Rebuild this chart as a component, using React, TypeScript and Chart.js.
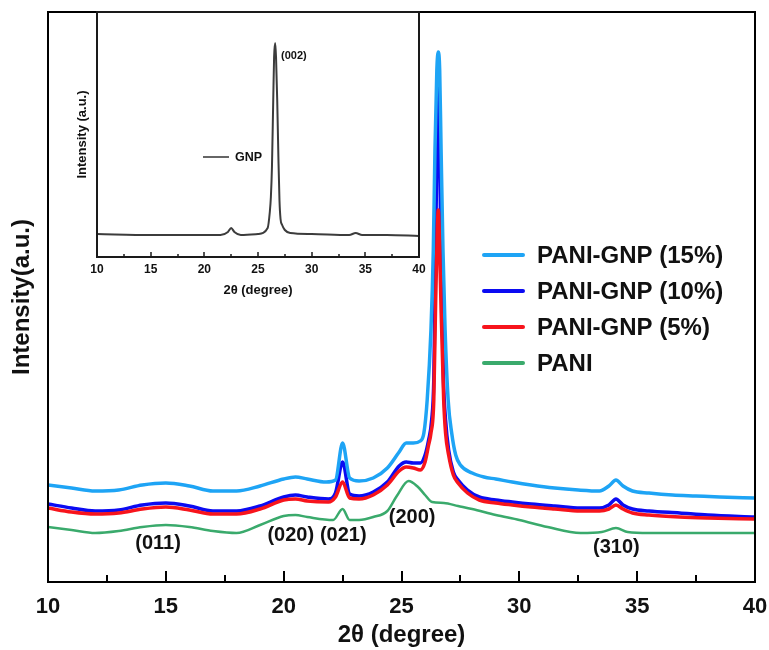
import React, { useEffect, useRef } from "react";
import { Chart, registerables } from "chart.js";

Chart.register(...registerables);

const FONT = '"Liberation Sans", Arial, Helvetica, sans-serif';

// ---- Main chart data (2θ in degrees, intensity in arbitrary units) ----
const theta15 = [10, 11, 12, 13, 14, 15, 16, 17, 18, 19, 20, 20.5, 21, 21.8, 22.2, 22.5, 22.8, 23.2, 23.8, 24.4, 24.9, 25.2, 25.5, 25.8, 25.95, 26.09, 26.25, 26.35, 26.42, 26.5, 26.56, 26.62, 26.68, 26.76, 26.85, 26.98, 27.13, 27.3, 27.5, 28, 28.5, 29, 29.7, 30.5, 31.5, 32.5, 33.4, 33.8, 34.1, 34.4, 34.8, 35.5, 36.5, 37.5, 38.5, 40];
const intensity15 = [97, 94, 91, 92, 97, 99, 96, 91, 91, 96, 103, 105, 103, 100, 102, 139, 104, 101, 104, 114, 130, 139, 139, 141, 149, 182, 252, 332, 432, 512, 530, 512, 432, 332, 252, 182, 149, 127, 117, 109, 105, 103, 100, 97, 94, 92, 91, 96, 102, 96, 91, 89, 87, 86, 85, 84];

const theta10 = [10, 11, 12, 13, 14, 15, 16, 17, 18, 19, 20, 20.5, 21, 21.9, 22.2, 22.5, 22.8, 23.2, 23.8, 24.4, 24.9, 25.2, 25.5, 25.8, 26.0, 26.15, 26.28, 26.37, 26.45, 26.52, 26.56, 26.6, 26.67, 26.78, 26.87, 27.0, 27.2, 27.4, 27.8, 28.3, 29, 29.7, 30.5, 31.5, 32.6, 33.4, 33.8, 34.1, 34.4, 34.8, 35.5, 36.8, 38, 40];
const intensity10 = [78, 74, 71, 72, 77, 79, 76, 71, 71, 76, 85, 87, 85, 83, 89, 120, 88, 86, 90, 100, 116, 120, 119, 119, 127, 142, 162, 202, 332, 472, 507, 472, 332, 202, 162, 132, 110, 102, 92, 85, 82, 80, 78, 76, 74, 74, 77, 83, 77, 73, 71, 69, 67, 65];

const theta5 = [10, 11, 12, 13, 14, 15, 16, 17, 18, 19, 20, 20.5, 21, 21.9, 22.2, 22.5, 22.8, 23.2, 23.8, 24.4, 24.9, 25.2, 25.5, 25.8, 26.0, 26.15, 26.25, 26.37, 26.45, 26.52, 26.56, 26.6, 26.67, 26.79, 26.87, 27.0, 27.2, 27.4, 27.8, 28.3, 29, 29.7, 30.5, 31.5, 32.6, 33.4, 33.8, 34.1, 34.4, 34.8, 35.5, 36.8, 38, 40];
const intensity5 = [74, 70, 68, 69, 73, 75, 72, 68, 68, 73, 82, 83, 81, 80, 85, 100, 84, 83, 87, 97, 111, 115, 114, 112, 120, 137, 149, 182, 282, 352, 372, 352, 282, 182, 149, 127, 107, 99, 89, 82, 79, 77, 75, 73, 71, 71, 73, 77, 73, 69, 67, 65, 64, 63];

const thetaPani = [10, 11, 12, 13, 14, 15, 16, 17, 18, 19, 20, 20.5, 21, 22.1, 22.5, 22.8, 23.2, 23.8, 24.4, 24.8, 25.3, 25.7, 26.0, 26.3, 26.8, 27.4, 28, 29, 30, 31.2, 32.6, 33.5, 34.1, 34.6, 35.5, 37, 40];
const intensityPani = [55, 52, 49, 51, 55, 57, 55, 51, 49, 57, 66, 67, 65, 62, 73, 62, 62, 65, 71, 86, 101, 95, 87, 80, 79, 76, 73, 67, 62, 55, 49, 50, 54, 50, 49, 49, 49];

const seriesLabels = ["PANI-GNP (15%)", "PANI-GNP (10%)", "PANI-GNP (5%)", "PANI"];
const seriesColors = ["#1ea4f5", "#0b0bf2", "#f7141c", "#3aaa6c"];

const xMajorTicks = [10, 15, 20, 25, 30, 35, 40];

const peakLabels = ["(011)", "(020)", "(021)", "(200)", "(310)"];
const peakLabelTheta = [14.67, 20.3, 22.53, 25.45, 34.12];
const peakLabelIntensity = [39, 47, 47, 65, 35];

// ---- Inset (GNP) data ----
const thetaGnp = [10, 15, 20, 21.5, 22.2, 22.5, 22.8, 23.4, 25, 25.9, 26.1, 26.2, 26.3, 26.42, 26.5, 26.6, 26.68, 26.79, 26.9, 27.0, 27.1, 27.25, 27.5, 28, 30, 33.5, 34.1, 34.7, 37, 40];
const intensityGnp = [23, 22, 22, 22, 25, 29, 25, 22, 23, 29, 45, 60, 90, 157, 200, 214, 200, 157, 100, 57, 38, 32, 27, 24, 23, 22, 24, 22, 22, 21];
const insetPeakLabel = "(002)";
const insetPeakLabelTheta = 27.15;
const insetPeakLabelIntensity = 201;
const insetLegendLabel = "GNP";

const toPoints = (xs: number[], ys: number[]) => xs.map((x, i) => ({ x, y: ys[i] }));

const tickCallback = (v: any) => (xMajorTicks.includes(Number(v)) ? String(v) : "");

function drawInwardTicks(ctx: CanvasRenderingContext2D, chart: any, major: number, minor: number) {
  const xs = chart.scales.x;
  const a = chart.chartArea;
  xs.ticks.forEach((t: any) => {
    const px = Math.round(xs.getPixelForValue(t.value));
    const len = xMajorTicks.includes(t.value) ? major : minor;
    ctx.beginPath();
    ctx.moveTo(px, a.bottom);
    ctx.lineTo(px, a.bottom - len);
    ctx.stroke();
  });
}

const mainDecor = {
  id: "mainDecor",
  afterDatasetsDraw(chart: any) {
    const { ctx, chartArea: a, scales } = chart;
    const xs = scales.x;
    const ys = scales.y;
    ctx.save();
    ctx.strokeStyle = "#000";
    ctx.lineWidth = 2;
    ctx.strokeRect(a.left, a.top, a.right - a.left, a.bottom - a.top);
    drawInwardTicks(ctx, chart, 11, 7);

    ctx.fillStyle = "#111";
    ctx.font = `bold 20px ${FONT}`;
    ctx.textAlign = "center";
    ctx.textBaseline = "middle";
    peakLabels.forEach((s, i) => {
      ctx.fillText(s, xs.getPixelForValue(peakLabelTheta[i]), ys.getPixelForValue(peakLabelIntensity[i]));
    });

    ctx.font = `bold 24px ${FONT}`;
    ctx.textAlign = "left";
    seriesLabels.forEach((s, i) => {
      const y = a.top + 243 + i * 36;
      const x0 = a.left + 436;
      ctx.strokeStyle = seriesColors[i];
      ctx.lineWidth = 4;
      ctx.lineCap = "round";
      ctx.beginPath();
      ctx.moveTo(x0, y);
      ctx.lineTo(x0 + 39, y);
      ctx.stroke();
      ctx.fillStyle = "#111";
      ctx.fillText(s, x0 + 53, y + 1);
    });
    ctx.restore();
  },
};

const insetDecor = {
  id: "insetDecor",
  afterDatasetsDraw(chart: any) {
    const { ctx, chartArea: a, scales } = chart;
    const xs = scales.x;
    const ys = scales.y;
    ctx.save();
    ctx.strokeStyle = "#1a1a1a";
    ctx.lineWidth = 2;
    ctx.strokeRect(a.left, a.top, a.right - a.left, a.bottom - a.top);
    ctx.lineWidth = 1.5;
    drawInwardTicks(ctx, chart, 5, 3);

    ctx.fillStyle = "#111";
    ctx.font = `bold 11px ${FONT}`;
    ctx.textAlign = "left";
    ctx.textBaseline = "middle";
    ctx.fillText(insetPeakLabel, xs.getPixelForValue(insetPeakLabelTheta), ys.getPixelForValue(insetPeakLabelIntensity));

    const ly = a.top + 145;
    const lx = a.left + 106;
    ctx.strokeStyle = "#333";
    ctx.lineWidth = 1.5;
    ctx.beginPath();
    ctx.moveTo(lx, ly);
    ctx.lineTo(lx + 26, ly);
    ctx.stroke();
    ctx.font = `bold 12.5px ${FONT}`;
    ctx.fillText(insetLegendLabel, lx + 32, ly + 1);
    ctx.restore();
  },
};

export default function App() {
  const mainRef = useRef<HTMLCanvasElement | null>(null);
  const insetRef = useRef<HTMLCanvasElement | null>(null);

  useEffect(() => {
    Chart.defaults.font.family = FONT;
    Chart.defaults.color = "#111";

    const lineDs = (label: string, xs: number[], ys: number[], color: string, order: number, width: number) => ({
      label,
      data: toPoints(xs, ys),
      borderColor: color,
      backgroundColor: color,
      borderWidth: width,
      pointRadius: 0,
      cubicInterpolationMode: "monotone" as const,
      order,
    });

    const main = new Chart(mainRef.current as HTMLCanvasElement, {
      type: "line",
      data: {
        datasets: [
          lineDs(seriesLabels[0], theta15, intensity15, seriesColors[0], 1, 3.5),
          lineDs(seriesLabels[1], theta10, intensity10, seriesColors[1], 2, 3.5),
          lineDs(seriesLabels[2], theta5, intensity5, seriesColors[2], 0, 3.5),
          lineDs(seriesLabels[3], thetaPani, intensityPani, seriesColors[3], 3, 2.5),
        ],
      },
      options: {
        responsive: false,
        animation: false,
        layout: { padding: { left: 0, top: 12, right: 14, bottom: 0 } },
        plugins: { legend: { display: false }, tooltip: { enabled: false } },
        scales: {
          x: {
            type: "linear",
            min: 10,
            max: 40,
            grid: { display: false, drawTicks: false },
            border: { display: false },
            ticks: {
              stepSize: 2.5,
              autoSkip: false,
              maxRotation: 0,
              padding: 12,
              callback: tickCallback,
              font: { size: 22, weight: "bold" },
              color: "#111",
            },
            title: {
              display: true,
              text: "2θ (degree)",
              font: { size: 24, weight: "bold" },
              color: "#111",
              padding: { top: 0, bottom: 0 },
            },
            afterFit: (s: any) => {
              s.height = 68;
              s.paddingRight = 0;
              s.paddingLeft = 0;
            },
          },
          y: {
            min: 0,
            max: 570,
            grid: { display: false, drawTicks: false },
            border: { display: false },
            ticks: { display: false },
            title: {
              display: true,
              text: "Intensity(a.u.)",
              font: { size: 24, weight: "bold" },
              color: "#111",
              padding: { top: 8, bottom: 0 },
            },
            afterFit: (s: any) => {
              s.width = 48;
            },
          },
        },
      },
      plugins: [mainDecor],
    });

    const inset = new Chart(insetRef.current as HTMLCanvasElement, {
      type: "line",
      data: {
        datasets: [
          {
            label: insetLegendLabel,
            data: toPoints(thetaGnp, intensityGnp),
            borderColor: "#3c3c3c",
            borderWidth: 2,
            pointRadius: 0,
            cubicInterpolationMode: "monotone" as const,
          },
        ],
      },
      options: {
        responsive: false,
        animation: false,
        layout: { padding: { left: 0, top: 12, right: 21, bottom: 0 } },
        plugins: { legend: { display: false }, tooltip: { enabled: false } },
        scales: {
          x: {
            type: "linear",
            min: 10,
            max: 40,
            grid: { display: false, drawTicks: false },
            border: { display: false },
            ticks: {
              stepSize: 2.5,
              autoSkip: false,
              maxRotation: 0,
              padding: 5,
              callback: tickCallback,
              font: { size: 12, weight: "bold" },
              color: "#111",
            },
            title: {
              display: true,
              text: "2θ (degree)",
              font: { size: 13, weight: "bold" },
              color: "#111",
              padding: { top: 0, bottom: 2 },
            },
            afterFit: (s: any) => {
              s.height = 43;
              s.paddingRight = 0;
              s.paddingLeft = 0;
            },
          },
          y: {
            min: 0,
            max: 245,
            grid: { display: false, drawTicks: false },
            border: { display: false },
            ticks: { display: false },
            title: {
              display: true,
              text: "Intensity (a.u.)",
              font: { size: 13, weight: "bold" },
              color: "#111",
              padding: { top: 20, bottom: 0 },
            },
            afterFit: (s: any) => {
              s.width = 42;
            },
          },
        },
      },
      plugins: [insetDecor],
    });

    return () => {
      main.destroy();
      inset.destroy();
    };
  }, []);

  return (
    <div style={{ position: "fixed", left: 0, top: 0, width: 769, height: 650, background: "#fff", overflow: "hidden" }}>
      <canvas ref={mainRef} width={769} height={650} style={{ position: "absolute", left: 0, top: 0, width: 769, height: 650 }} />
      <canvas ref={insetRef} width={385} height={300} style={{ position: "absolute", left: 55, top: 0, width: 385, height: 300 }} />
    </div>
  );
}
